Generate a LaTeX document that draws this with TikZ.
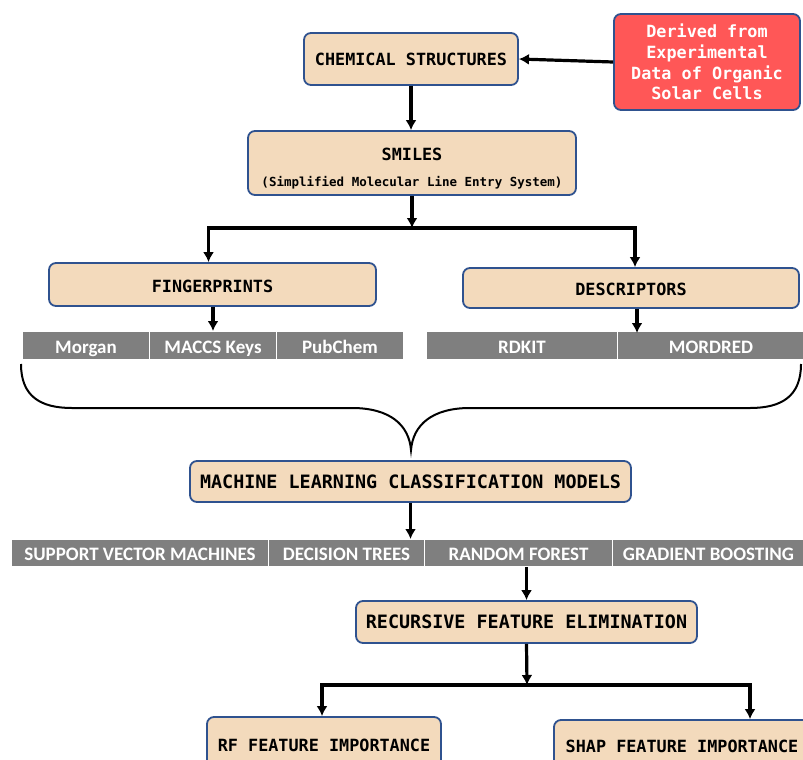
\documentclass[tikz,border=0pt]{standalone}
\usepackage{fontspec}
\newfontfamily\monob{DejaVu Sans Mono}
\newfontfamily\cellf{Carlito}
\usetikzlibrary{arrows.meta,calc,positioning}
\definecolor{boxfill}{RGB}{243,218,188}
\definecolor{boxline}{RGB}{47,82,143}
\definecolor{srcred}{RGB}{255,87,87}
\definecolor{cellgray}{RGB}{127,127,127}
\tikzstyle{blk}=[draw=boxline,fill=boxfill,line width=1.8pt,rounded corners=7pt,inner sep=0pt,align=center,font=\monob\bfseries\fontsize{16.8}{20.7}\selectfont]
\tikzstyle{big}=[font=\monob\bfseries\fontsize{18.4}{22}\selectfont]
\tikzstyle{src}=[blk,fill=srcred,text=white]
\tikzstyle{cell}=[draw=white,line width=1pt,fill=cellgray,text=white,inner sep=0pt,text height=15.5pt,text depth=0pt,anchor=north west,font=\cellf\bfseries\fontsize{19}{20}\selectfont]
\tikzstyle{con}=[line width=3.2pt]

\begin{document}
\begin{tikzpicture}[
      x=1pt,y=-1pt,
      >={Latex[length=10pt,width=11pt]}
    ]
      \useasboundingbox (0,0) rectangle (803,760);
      \clip (0,0) rectangle (803,760);

      \node [blk,minimum width=214pt,minimum height=52pt] (chem) at (411,59) {CHEMICAL STRUCTURES};
      \node [src,minimum width=186pt,minimum height=96pt] (src) at (707,62) {Derived from\\Experimental\\Data of Organic\\Solar Cells};
      \node [blk,minimum width=328pt,minimum height=64pt] (smiles) at (412,163) {\rule{0pt}{24pt}SMILES\\[5pt]{\fontsize{12.5}{14}\selectfont(Simplified Molecular Line Entry System)}};

      \node [blk,minimum width=327pt,minimum height=43pt] (fp) at (212.5,284.5) {\rule{0pt}{17pt}FINGERPRINTS};
      \node [blk,minimum width=336pt,minimum height=40pt] (desc) at (631,288) {\rule{0pt}{15pt}DESCRIPTORS};

      % fingerprint types
      \node [cell,minimum width=127pt,minimum height=28pt] (morgan) at (22,331) {Morgan};
      \node [cell,minimum width=127pt,minimum height=28pt] (maccs) at (149,331) {MACCS Keys};
      \node [cell,minimum width=127pt,minimum height=28pt] (pubchem) at (276,331) {PubChem};
      % descriptor types
      \node [cell,minimum width=191pt,minimum height=28pt] (rdkit) at (426,331) {RDKIT};
      \node [cell,minimum width=187pt,minimum height=28pt] (mordred) at (617,331) {MORDRED};

      \node [blk,big,minimum width=441pt,minimum height=41pt] (ml) at (410.5,481.5) {MACHINE LEARNING CLASSIFICATION MODELS};

      % models
      \node [cell,minimum width=257pt,minimum height=27pt] (svm) at (11,539) {SUPPORT VECTOR MACHINES};
      \node [cell,minimum width=156pt,minimum height=27pt] (dt) at (268,539) {DECISION TREES};
      \node [cell,minimum width=188pt,minimum height=27pt] (rf) at (424,539) {RANDOM FOREST};
      \node [cell,minimum width=192pt,minimum height=27pt] (gb) at (612,539) {GRADIENT BOOSTING};

      \node [blk,big,minimum width=341pt,minimum height=42pt] (rfe) at (526.5,622) {RECURSIVE FEATURE ELIMINATION};
      \node [blk,minimum width=234pt,minimum height=56pt] (rfimp) at (324,745) {RF FEATURE IMPORTANCE};
      \node [blk,minimum width=256pt,minimum height=52pt] (shap) at (682,746) {SHAP FEATURE IMPORTANCE};

      \coordinate (sp1) at (411,228);
      \coordinate (sp2) at (527,685);
      \coordinate (fpin) at ($(fp.north)+(-4,0)$);
      \coordinate (descin) at ($(desc.north)+(4,0)$);
      \coordinate (descout) at ($(desc.south)+(6,0)$);
      \coordinate (rfin) at ($(rfimp.north)+(-2,0)$);
      \coordinate (shapin) at ($(shap.north)+(68,0)$);

      \draw [con,->] (src.west) -- (chem.east);
      \draw [con,->] (chem.south) -- (chem.south |- smiles.north);
      \draw [con,->] (smiles.south) -- (smiles.south |- sp1);
      \draw [con,<->] (fpin) |- (sp1) -| (descin);
      \draw [con,->] (fp.south -| maccs) -- (maccs.north);
      \draw [con,->] (descout) -- ($(descout |- rdkit.north)+(0,2)$);

      % brace
      \draw [line width=2pt] (21,364) .. controls (21,396) and (40,408) .. (72,408)
        -- (352,408) .. controls (390,408) and (409,425) .. (411,450)
        .. controls (413,425) and (432,408) .. (470,408)
        -- (750,408) .. controls (782,408) and (801,396) .. (801,364);

      \draw [con,->] (ml.south) -- (ml.south |- dt.north);
      \draw [con,->] (rfe.north |- rf.south) -- (rfe.north);
      \draw [con,->] (rfe.south) -- (sp2);
      \draw [con,<->] (rfin) |- (sp2) -| (shapin);
\end{tikzpicture}
\end{document}
